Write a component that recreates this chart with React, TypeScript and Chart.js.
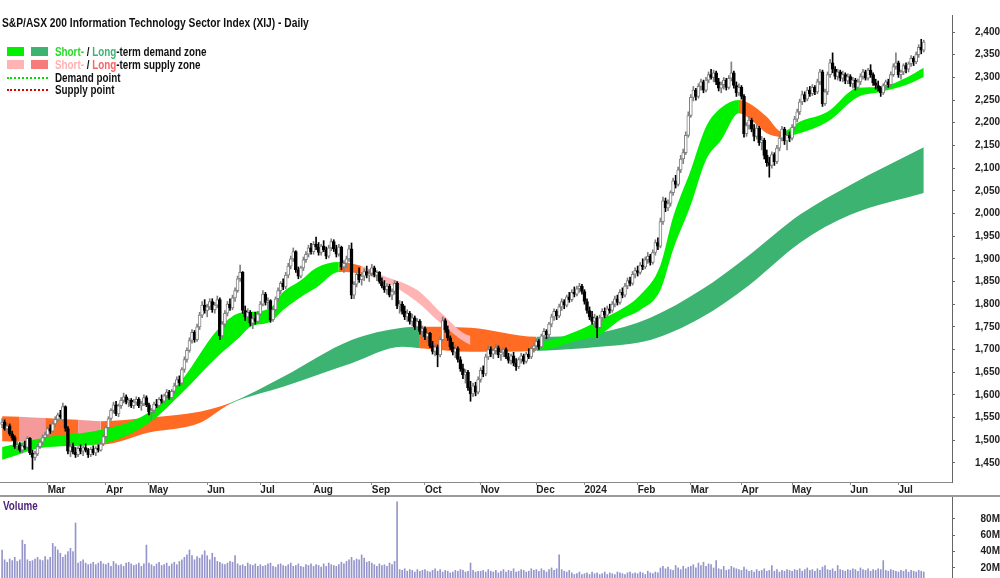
import React, { useEffect, useRef } from 'react';
import { Chart, registerables } from 'chart.js';

Chart.register(...registerables);

const FONT = "'Liberation Sans', Arial, sans-serif";

const titleText = 'S&P/ASX 200 Information Technology Sector Index (XIJ) - Daily';

// Month tick positions (trading-day index) and labels
const monthTickIdx = [18, 41, 58, 81, 102, 123, 146, 167, 189, 211, 230, 251, 272, 292, 312, 335, 354];
const monthLabels = ['Mar', 'Apr', 'May', 'Jun', 'Jul', 'Aug', 'Sep', 'Oct', 'Nov', 'Dec', '2024', 'Feb', 'Mar', 'Apr', 'May', 'Jun', 'Jul'];
const priceTicks = [1450, 1500, 1550, 1600, 1650, 1700, 1750, 1800, 1850, 1900, 1950, 2000, 2050, 2100, 2150, 2200, 2250, 2300, 2350, 2400];
const volumeTicks = [20, 40, 60, 80];

// Daily candles (Feb 2023 - Jul 2024)
const opens = [
  1535,1540,1525,1532,1514,1506,1486,1490,1478,1488,1484,1504,1472,1462,1470,1486,1496,1506,
  1512,1526,1520,1536,1546,1556,1545,1574,1526,1476,1486,1474,1468,1482,1476,1484,1478,1468,1480,1472,1482,1478,1492,
  1508,1528,1548,1566,1578,1558,1576,1588,1596,1584,1588,1576,1584,1590,1576,1580,1594,
  1578,1562,1566,1580,1576,1590,1586,1598,1606,1594,1608,1620,1634,1626,1656,1678,1698,1720,1738,1722,1750,1776,1798,
  1786,1794,1806,1788,1798,1810,1730,1756,1780,1800,1792,1814,1830,1856,1870,1786,1772,1782,1758,1768,1762,
  1778,1800,1822,1804,1808,1766,1788,1812,1830,1846,1838,1864,1884,1900,1916,1876,1862,1880,1898,1910,1924,
  1916,1932,1926,1914,1928,1920,1906,1924,1938,1922,1910,1926,1882,1890,1900,1922,1820,1844,1866,1854,1862,1872,1864,
  1868,1880,1864,1870,1850,1840,1832,1840,1820,1828,1846,1796,1800,1784,1772,1780,1762,1770,1750,1762,1740,
  1746,1728,1736,1708,1696,1706,1688,1722,1764,1744,1726,1706,1694,1702,1678,1658,1644,1650,1616,1602,1620,1606,
  1634,1654,1646,1684,1700,1690,1698,1704,1688,1694,1700,1684,1676,1686,1670,1662,1678,1686,1674,1690,1684,1702,
  1708,1718,1706,1730,1740,1732,1756,1772,1784,1774,1794,1806,1798,1816,1810,1826,1822,1834,1840,
  1828,1806,1786,1772,1762,1770,1748,1770,1784,1776,1790,1786,1800,1812,1804,1826,1820,1840,1852,1846,1866,
  1874,1870,1886,1882,1898,1906,1892,1914,1936,1928,1982,2028,2012,2022,2046,2072,2064,2096,2120,2134,2172,
  2216,2256,2272,2258,2280,2290,2272,2294,2306,2300,2310,2290,2276,2284,2294,2278,2298,2310,2282,2266,
  2278,2258,2176,2194,2206,2186,2170,2188,2156,2162,2128,2112,2106,2130,2114,2144,2166,2186,2160,2172,
  2166,2190,2208,2224,2246,2262,2252,2272,2264,2278,2268,2290,2312,2242,2268,2306,2332,2318,2302,2312,2298,2306,2292,
  2302,2286,2294,2278,2290,2302,2312,2298,2316,2306,2288,2282,2276,2266,2282,2290,2284,2306,2324,
  2332,2306,2312,2326,2318,2330,2342,2334,2350,2366,2360,
];
const highs = [
  1548,1545,1538,1536,1520,1510,1496,1495,1492,1498,1508,1506,1478,1476,1490,1500,1512,1518,
  1530,1534,1540,1552,1560,1566,1582,1576,1530,1492,1494,1484,1486,1490,1488,1492,1482,1484,1488,1486,1490,1496,1512,
  1532,1552,1570,1584,1586,1580,1594,1604,1600,1592,1592,1590,1596,1594,1586,1600,1598,
  1582,1570,1584,1590,1594,1600,1602,1612,1610,1612,1626,1640,1642,1660,1684,1704,1726,1744,1742,1756,1782,1806,1810,
  1800,1812,1812,1804,1818,1814,1762,1786,1806,1812,1820,1836,1862,1886,1872,1796,1790,1786,1774,1782,1784,
  1806,1830,1826,1814,1810,1792,1816,1836,1850,1856,1870,1890,1906,1924,1918,1882,1884,1904,1916,1930,1934,
  1938,1948,1936,1932,1940,1926,1930,1944,1942,1930,1932,1928,1896,1906,1930,1935,1850,1872,1880,1870,1878,1884,1876,
  1888,1884,1874,1872,1858,1852,1846,1844,1834,1852,1850,1808,1806,1796,1788,1784,1778,1774,1768,1766,1752,
  1750,1740,1738,1718,1712,1710,1728,1772,1768,1752,1730,1716,1710,1706,1684,1668,1656,1654,1630,1626,1628,1640,
  1660,1664,1690,1708,1706,1702,1712,1708,1700,1704,1704,1692,1690,1694,1680,1682,1692,1690,1694,1702,1706,1714,
  1724,1722,1734,1746,1744,1760,1778,1790,1788,1800,1812,1810,1820,1826,1832,1838,1840,1846,1844,
  1832,1812,1794,1784,1778,1774,1776,1790,1792,1796,1800,1806,1818,1820,1832,1836,1846,1858,1860,1872,1880,
  1884,1892,1900,1904,1914,1910,1920,1942,1946,1990,2036,2034,2030,2050,2078,2084,2102,2128,2142,2180,2224,
  2262,2280,2276,2286,2296,2294,2300,2312,2318,2316,2314,2298,2290,2300,2298,2304,2334,2314,2290,2286,
  2282,2262,2200,2214,2210,2196,2196,2192,2170,2166,2140,2124,2136,2134,2150,2172,2192,2190,2178,2180,
  2196,2214,2230,2252,2270,2268,2278,2280,2284,2282,2296,2318,2316,2274,2312,2340,2354,2324,2318,2316,2314,2310,2308,
  2306,2300,2298,2296,2308,2318,2316,2320,2328,2310,2296,2292,2280,2286,2294,2296,2312,2330,2354,
  2336,2316,2330,2332,2334,2348,2346,2356,2372,2384,2382,
];
const lows = [
  1528,1522,1518,1510,1500,1482,1478,1474,1472,1480,1480,1468,1436,1456,1466,1482,1490,1500,
  1508,1515,1518,1530,1540,1548,1542,1520,1470,1464,1470,1462,1464,1470,1466,1474,1462,1464,1468,1466,1474,1476,1488,
  1504,1524,1544,1560,1554,1552,1570,1582,1580,1574,1572,1570,1578,1572,1566,1576,1574,
  1556,1544,1560,1572,1572,1582,1582,1592,1590,1590,1604,1616,1620,1622,1650,1672,1694,1714,1716,1718,1744,1770,1780,
  1772,1788,1782,1780,1792,1722,1726,1750,1774,1786,1788,1806,1826,1850,1780,1764,1760,1752,1746,1756,1758,
  1774,1796,1798,1790,1760,1762,1784,1806,1822,1832,1834,1858,1878,1894,1870,1856,1858,1874,1892,1904,1910,
  1910,1920,1908,1908,1916,1900,1902,1918,1916,1904,1906,1876,1870,1880,1894,1812,1812,1838,1848,1842,1852,1858,1850,
  1862,1860,1852,1846,1836,1826,1822,1816,1810,1822,1790,1780,1778,1766,1762,1756,1752,1744,1744,1734,1726,
  1722,1716,1704,1690,1686,1662,1684,1718,1738,1720,1700,1688,1682,1672,1652,1636,1626,1610,1586,1596,1598,1602,
  1628,1640,1642,1678,1684,1680,1690,1682,1676,1684,1680,1670,1668,1664,1654,1658,1670,1668,1670,1680,1680,1694,
  1702,1700,1702,1722,1724,1728,1750,1764,1766,1770,1786,1790,1794,1804,1806,1816,1818,1826,1822,
  1800,1780,1766,1756,1750,1726,1744,1764,1770,1772,1780,1782,1794,1798,1800,1814,1816,1834,1840,1842,1858,
  1862,1866,1876,1878,1890,1886,1888,1908,1920,1924,1976,2004,2006,2016,2040,2056,2060,2090,2110,2130,2168,
  2212,2248,2250,2254,2272,2266,2268,2288,2296,2290,2284,2270,2266,2274,2272,2274,2292,2276,2258,2260,
  2252,2168,2170,2186,2180,2160,2164,2150,2140,2120,2104,2080,2100,2106,2110,2138,2160,2152,2140,2158,
  2162,2184,2202,2218,2240,2246,2248,2258,2260,2262,2264,2284,2236,2238,2262,2300,2310,2296,2294,2292,2290,2286,2286,
  2280,2276,2272,2274,2284,2296,2294,2294,2300,2282,2274,2270,2258,2262,2276,2278,2280,2302,2318,
  2300,2296,2306,2310,2312,2324,2326,2330,2344,2352,2356,
];
const closes = [
  1540,1525,1532,1514,1506,1486,1490,1478,1488,1484,1504,1472,1462,1470,1486,1496,1506,1512,
  1526,1520,1536,1546,1556,1552,1574,1526,1476,1486,1474,1468,1482,1476,1484,1478,1468,1480,1472,1482,1478,1492,1508,
  1528,1548,1566,1578,1558,1576,1588,1596,1584,1588,1576,1584,1590,1576,1580,1594,1578,
  1562,1566,1580,1576,1590,1586,1598,1606,1594,1608,1620,1634,1626,1656,1678,1698,1720,1738,1722,1750,1776,1798,1786,
  1794,1806,1788,1798,1810,1730,1756,1780,1800,1792,1814,1830,1856,1870,1786,1772,1782,1758,1768,1762,1778,
  1800,1822,1804,1808,1766,1788,1812,1830,1846,1838,1864,1884,1900,1916,1876,1862,1880,1898,1910,1924,1916,
  1932,1926,1914,1928,1920,1906,1924,1938,1922,1910,1926,1882,1890,1900,1922,1820,1844,1866,1854,1862,1872,1864,1868,
  1880,1864,1870,1850,1840,1832,1840,1820,1828,1846,1796,1800,1784,1772,1780,1762,1770,1750,1762,1740,1746,
  1728,1736,1708,1696,1706,1688,1722,1764,1744,1726,1706,1694,1702,1678,1658,1644,1650,1616,1602,1620,1606,1634,
  1654,1646,1684,1700,1690,1698,1704,1688,1694,1700,1684,1676,1686,1670,1662,1678,1686,1674,1690,1684,1702,1708,
  1718,1706,1730,1740,1732,1756,1772,1784,1774,1794,1806,1798,1816,1810,1826,1822,1834,1840,1828,
  1806,1786,1772,1762,1770,1748,1770,1784,1776,1790,1786,1800,1812,1804,1826,1820,1840,1852,1846,1866,1874,
  1870,1886,1882,1898,1906,1892,1914,1936,1928,1982,2028,2012,2022,2046,2072,2064,2096,2120,2134,2172,2216,
  2256,2272,2258,2280,2290,2272,2294,2306,2300,2310,2290,2276,2284,2294,2278,2298,2310,2282,2266,2278,
  2258,2176,2194,2206,2186,2170,2188,2156,2162,2128,2112,2106,2130,2114,2144,2166,2186,2160,2172,2166,
  2190,2208,2224,2246,2262,2252,2272,2264,2278,2268,2290,2312,2242,2268,2306,2332,2318,2302,2312,2298,2306,2292,2302,
  2286,2294,2278,2290,2302,2312,2298,2316,2306,2288,2282,2276,2266,2282,2290,2284,2306,2324,2332,
  2306,2312,2326,2318,2330,2342,2334,2350,2366,2360,2378,
];
// Volume in millions
const volumes = [
  42,30,27,31,29,33,28,30,54,49,30,28,29,31,33,30,29,34,
  30,33,50,46,42,38,33,36,40,44,40,75,26,28,30,26,24,25,27,24,26,28,25,
  24,26,22,28,25,23,24,22,26,27,25,23,24,26,22,25,48,
  26,24,22,25,27,23,24,26,22,25,27,24,28,30,33,36,42,35,30,34,32,36,41,
  35,30,38,33,28,27,25,24,26,28,27,35,25,23,24,22,26,24,23,25,22,
  24,22,23,25,26,22,21,24,25,23,22,24,26,22,23,25,22,21,24,23,25,
  22,24,23,21,25,22,26,24,23,22,24,27,25,28,30,33,29,31,30,36,32,27,28,
  26,24,22,25,23,24,22,26,24,28,101,18,17,19,16,18,17,15,18,16,17,
  18,16,15,17,19,16,18,15,17,16,14,15,17,16,18,17,15,16,26,17,15,16,
  16,17,15,18,16,15,17,14,16,18,15,17,16,19,15,16,18,17,15,16,19,17,
  18,16,19,17,15,18,20,17,19,36,18,16,15,17,14,12,13,15,12,
  13,14,12,15,13,14,12,13,15,12,14,13,12,15,14,13,12,14,15,13,14,
  13,15,14,12,16,14,13,15,14,20,22,19,21,18,17,23,20,18,22,19,21,
  22,24,20,26,23,27,22,25,24,20,29,19,18,22,17,18,22,20,19,18,
  17,21,18,16,17,15,18,16,17,19,16,17,23,16,18,15,17,16,18,17,
  16,18,17,19,16,18,20,17,18,16,19,17,21,23,18,17,19,16,23,18,17,16,18,
  17,19,18,16,20,18,17,19,16,18,17,19,18,29,17,16,18,17,16,
  15,17,16,18,15,17,16,15,17,16,15,
];

// Short-term zone band (sampled)
const stIdx = [0, 18, 39, 58, 71, 85, 94, 98, 106, 111, 118, 124, 133, 142, 150, 164, 173, 185, 197, 212, 228, 236, 244, 252, 260, 265, 272, 278, 284, 291, 295, 302, 308, 315, 326, 338, 347, 357, 364];
const stUpper = [1485, 1507, 1523, 1562, 1633, 1743, 1781, 1783, 1792, 1827, 1853, 1880, 1893, 1884, 1864, 1831, 1783, 1730, 1726, 1717, 1743, 1765, 1787, 1820, 1886, 1992, 2096, 2191, 2233, 2250, 2243, 2213, 2180, 2202, 2224, 2277, 2279, 2299, 2321];
const stLower = [1457, 1485, 1492, 1538, 1604, 1684, 1728, 1750, 1761, 1787, 1816, 1836, 1871, 1867, 1853, 1805, 1759, 1710, 1699, 1699, 1721, 1732, 1765, 1787, 1831, 1920, 2019, 2118, 2162, 2221, 2210, 2177, 2169, 2177, 2202, 2257, 2268, 2283, 2301];
const stZone = ['sd','sd','sd','sd','sd','sd','sd','sd','sd','sd','sd','sd','x','ss','ss','ss','ss','x','x','sd','sd','sd','sd','sd','sd','sd','sd','sd','sd','x','x','x','sd','sd','sd','sd','sd','sd','sd'];

// Long-term zone band (sampled)
const ltIdx = [0, 7, 17, 30, 39, 58, 78, 90, 111, 138, 158, 165, 185, 211, 236, 256, 276, 295, 315, 335, 364];
const ltUpper = [1553, 1552, 1549, 1545, 1542, 1550, 1563, 1582, 1640, 1721, 1748, 1750, 1748, 1728, 1737, 1770, 1831, 1908, 1997, 2063, 2146];
const ltLower = [1498, 1497, 1495, 1493, 1490, 1517, 1538, 1580, 1618, 1670, 1706, 1703, 1695, 1697, 1706, 1721, 1770, 1842, 1935, 1997, 2045];
const ltZone = ['x','ls','x','ls','x','x','x','ld','ld','ld','ld','x','x','ld','ld','ld','ld','ld','ld','ld','ld'];

const ZONE_COLORS: Record<string, string> = {
  sd: '#00f000',
  ld: '#3cb371',
  ss: '#ffb3b3',
  ls: '#f59a9a',
  x: '#ff6b22',
};

function bandDatasets(idx: number[], upper: number[], lower: number[], zone: string[], order: number) {
  return [
    {
      type: 'line',
      data: idx.map((x, k) => ({ x, y: upper[k] })),
      borderWidth: 0,
      borderColor: 'rgba(0,0,0,0)',
      pointRadius: 0,
      fill: false,
      order,
      cubicInterpolationMode: 'monotone',
    },
    {
      type: 'line',
      data: idx.map((x, k) => ({ x, y: lower[k] })),
      borderWidth: 0,
      borderColor: 'rgba(0,0,0,0)',
      pointRadius: 0,
      fill: '-1',
      backgroundColor: ZONE_COLORS[zone[0]],
      segment: {
        backgroundColor: (ctx: any) => ZONE_COLORS[zone[ctx.p0DataIndex]],
      },
      order,
      cubicInterpolationMode: 'monotone',
    },
  ];
}

const X_MIN = -0.83;
const X_MAX = 375.15;

export default function App() {
  const mainRef = useRef<HTMLCanvasElement>(null);
  const volRef = useRef<HTMLCanvasElement>(null);

  useEffect(() => {
    Chart.defaults.font.family = FONT;
    const idx = closes.map((_, i) => i);
    const isUp = (i: number) => closes[i] >= opens[i];
    const tickFont = { family: FONT, size: 10, weight: 'bold' as const };

    const main = new Chart(mainRef.current as HTMLCanvasElement, {
      type: 'bar',
      data: {
        datasets: [
          {
            type: 'bar',
            data: idx.map((i) => ({ x: i, y: [Math.min(opens[i], closes[i]), Math.max(opens[i], closes[i])] })),
            backgroundColor: (ctx: any) => (isUp(ctx.dataIndex) ? '#ffffff' : '#000000'),
            borderColor: (ctx: any) => (isUp(ctx.dataIndex) ? '#808080' : '#000000'),
            borderWidth: 1,
            borderSkipped: false,
            barThickness: 3,
            grouped: false,
            minBarLength: 1,
            order: 0,
          } as any,
          {
            type: 'bar',
            data: idx.map((i) => ({ x: i, y: [lows[i], highs[i]] })),
            backgroundColor: (ctx: any) => (isUp(ctx.dataIndex) ? '#808080' : '#000000'),
            borderWidth: 0,
            barThickness: 1,
            grouped: false,
            order: 1,
          } as any,
          ...(bandDatasets(stIdx, stUpper, stLower, stZone, 2) as any[]),
          ...(bandDatasets(ltIdx, ltUpper, ltLower, ltZone, 3) as any[]),
        ],
      },
      options: {
        animation: false,
        responsive: false,
        layout: { padding: { top: 15, left: 0, right: 0, bottom: 0 } },
        plugins: { legend: { display: false }, tooltip: { enabled: false }, title: { display: false } },
        scales: {
          x: {
            type: 'linear',
            min: X_MIN,
            max: X_MAX,
            offset: false,
            position: 'bottom',
            grid: { display: true, drawOnChartArea: false, drawTicks: true, tickLength: 3, color: '#888', offset: false },
            border: { display: true, color: '#888' },
            afterBuildTicks: (s: any) => {
              s.ticks = monthTickIdx.map((v) => ({ value: v }));
            },
            afterFit: (s: any) => {
              s.height = 15;
              s.paddingLeft = 0;
              s.paddingRight = 0;
            },
            ticks: {
              autoSkip: false,
              maxRotation: 0,
              align: 'start',
              padding: -1,
              color: '#222',
              font: tickFont,
              callback: (_v: any, i: number) => monthLabels[i],
            },
          } as any,
          y: {
            type: 'linear',
            position: 'right',
            min: 1408,
            max: 2437.5,
            grid: { drawOnChartArea: false, tickLength: 3, color: '#666' },
            border: { display: true, color: '#666' },
            afterBuildTicks: (s: any) => {
              s.ticks = priceTicks.map((v) => ({ value: v }));
            },
            afterFit: (s: any) => {
              s.width = 48;
              s.paddingTop = 0;
              s.paddingBottom = 0;
            },
            ticks: {
              crossAlign: 'far',
              padding: 17,
              color: '#222',
              font: tickFont,
              callback: (v: any) => Number(v).toLocaleString('en-US'),
            },
          } as any,
        },
      },
    });

    const vol = new Chart(volRef.current as HTMLCanvasElement, {
      type: 'bar',
      data: {
        datasets: [
          {
            data: idx.map((i) => ({ x: i, y: volumes[i] })),
            backgroundColor: '#9595cc',
            borderWidth: 0,
            barThickness: 1,
            grouped: false,
          } as any,
        ],
      },
      options: {
        animation: false,
        responsive: false,
        layout: { padding: 0 },
        plugins: { legend: { display: false }, tooltip: { enabled: false } },
        scales: {
          x: { type: 'linear', min: X_MIN, max: X_MAX, offset: false, display: false } as any,
          y: {
            type: 'linear',
            position: 'right',
            min: 7.7,
            max: 106.8,
            grid: { drawOnChartArea: false, tickLength: 3, color: '#666' },
            border: { display: true, color: '#666' },
            afterBuildTicks: (s: any) => {
              s.ticks = volumeTicks.map((v) => ({ value: v }));
            },
            afterFit: (s: any) => {
              s.width = 48;
              s.paddingTop = 0;
              s.paddingBottom = 0;
            },
            ticks: {
              crossAlign: 'far',
              padding: 22,
              color: '#222',
              font: tickFont,
              callback: (v: any) => `${v}M`,
            },
          } as any,
        },
      },
    });

    return () => {
      main.destroy();
      vol.destroy();
    };
  }, []);

  const narrow: React.CSSProperties = { transform: 'scaleX(0.82)', transformOrigin: '0 50%' };
  const rowStyle = (top: number): React.CSSProperties => ({
    position: 'absolute',
    left: 55,
    top,
    fontSize: 12,
    fontWeight: 'bold',
    lineHeight: '14px',
    color: '#111',
    whiteSpace: 'nowrap',
    ...narrow,
  });
  const box = (left: number, top: number, color: string): React.CSSProperties => ({
    position: 'absolute',
    left,
    top,
    width: 17,
    height: 9,
    background: color,
  });
  const dots = (top: number, color: string): React.CSSProperties => ({
    position: 'absolute',
    left: 7,
    top,
    width: 41,
    height: 0,
    borderTop: `2px dotted ${color}`,
  });

  return (
    <div style={{ position: 'absolute', left: 0, top: 0, width: 1000, height: 578, background: '#fff', overflow: 'hidden', fontFamily: FONT }}>
      <canvas ref={mainRef} width={1000} height={497} style={{ position: 'absolute', left: 0, top: 0, width: 1000, height: 497 }} />
      <canvas ref={volRef} width={1000} height={81} style={{ position: 'absolute', left: 0, top: 497, width: 1000, height: 81 }} />
      <div style={{ position: 'absolute', left: 0, top: 495, width: 1000, height: 2, background: '#9a9a9a' }} />

      <div style={{ position: 'absolute', left: 2, top: 16, fontSize: 12.5, fontWeight: 'bold', lineHeight: '14px', color: '#111', whiteSpace: 'nowrap', ...narrow }}>
        {titleText}
      </div>

      <div style={box(7, 47, ZONE_COLORS.sd)} />
      <div style={box(31, 47, ZONE_COLORS.ld)} />
      <div style={rowStyle(44.5)}>
        <span style={{ color: '#22dd22' }}>Short-</span> / <span style={{ color: '#3cb371' }}>Long</span>-term demand zone
      </div>

      <div style={box(7, 60, ZONE_COLORS.ss)} />
      <div style={box(31, 60, '#f77b7b')} />
      <div style={rowStyle(57.5)}>
        <span style={{ color: '#ffb0b0' }}>Short-</span> / <span style={{ color: '#ff6060' }}>Long</span>-term supply zone
      </div>

      <div style={dots(77, '#00dd00')} />
      <div style={rowStyle(70.5)}>Demand point</div>

      <div style={dots(89, '#dd0000')} />
      <div style={rowStyle(83)}>Supply point</div>

      <div style={{ position: 'absolute', left: 3, top: 499, fontSize: 12, fontWeight: 'bold', lineHeight: '14px', color: '#4b1f7a', whiteSpace: 'nowrap', ...narrow }}>
        Volume
      </div>
    </div>
  );
}
